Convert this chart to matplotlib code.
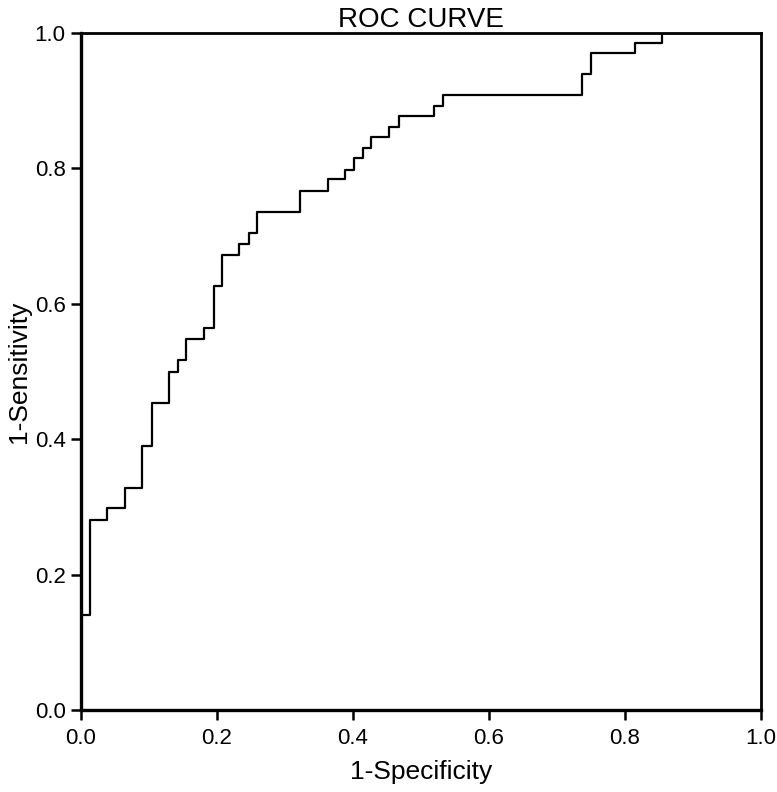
import matplotlib
matplotlib.use("Agg")
import matplotlib.pyplot as plt

# step vertices of the ROC curve
fpr = [0, 0, 0.013, 0.038, 0.065, 0.090, 0.104, 0.129, 0.142, 0.155,
       0.181, 0.195, 0.207, 0.233, 0.247, 0.259, 0.322, 0.363, 0.388, 0.402,
       0.415, 0.427, 0.453, 0.467, 0.519, 0.533, 0.737, 0.750, 0.815, 0.855,
       1.0]
tpr = [0, 0.14, 0.281, 0.298, 0.328, 0.39, 0.454, 0.5, 0.517, 0.548,
       0.564, 0.626, 0.672, 0.689, 0.705, 0.735, 0.767, 0.784, 0.798, 0.815,
       0.830, 0.846, 0.861, 0.878, 0.892, 0.908, 0.939, 0.970, 0.985, 1.0,
       1.0]
ticks = [0.0, 0.2, 0.4, 0.6, 0.8, 1.0]

plt.rcParams['font.family'] = ['Liberation Sans', 'DejaVu Sans']

fig = plt.figure(figsize=(7.77, 7.92), dpi=100)
ax = fig.add_axes([0.1042, 0.1035, 0.8752, 0.8548])
ax.plot(fpr, tpr, drawstyle='steps-post', color='black', lw=1.6)

ax.set_xlim(0, 1)
ax.set_ylim(0, 1)
ax.set_xticks(ticks)
ax.set_yticks(ticks)
ax.set_xticklabels([f'{t:.1f}' for t in ticks])
ax.set_yticklabels([f'{t:.1f}' for t in ticks])
ax.tick_params(direction='out', length=7, width=1.8, labelsize=16, pad=4)
ax.tick_params(axis='x', pad=6)
for s in ax.spines.values():
    s.set_linewidth(2)
    s.set_color('black')
ax.spines['left'].set_linewidth(2.4)
ax.spines['bottom'].set_linewidth(2.4)

ax.set_title('ROC CURVE', fontsize=20, pad=4)
ax.set_xlabel('1-Specificity', fontsize=19, labelpad=8)
ax.set_ylabel('1-Sensitivity', fontsize=19, labelpad=3)

fig.savefig('out.png', dpi=100)
